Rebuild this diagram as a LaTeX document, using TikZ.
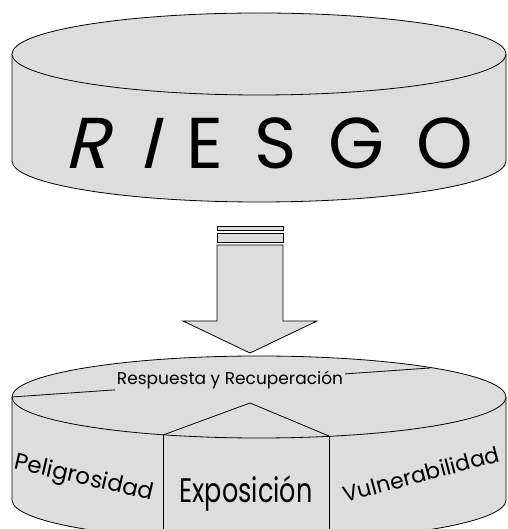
\documentclass[tikz,border=0pt]{standalone}
\usepackage{fontspec}
\setmainfont{Poppins}
\usetikzlibrary{calc}
\definecolor{discgray}{RGB}{221,221,221}

\begin{document}
\begin{tikzpicture}[x=1pt,y=1pt,
        disc/.style={draw=black,fill=discgray,line width=0.8pt},
        edge/.style={draw=black,line width=0.8pt},
        lbl/.style={inner sep=0pt,text=black}
      ]
      \useasboundingbox (0,0) rectangle (507,529);
      \clip (0,0) rectangle (507,529);
      % Upper disc.
      \fill[discgray] (12,475) -- (12,368) arc[start angle=180,end angle=360,x radius=247,y radius=41] -- (506,475) -- cycle;
      \draw[edge] (12,475) -- (12,368) arc[start angle=180,end angle=360,x radius=247,y radius=41] -- (506,475);
      \draw[disc] (259,475) ellipse[x radius=247,y radius=41];
      \node[lbl,anchor=west,font=\fontsize{72}{78}\selectfont\addfontfeature{LetterSpace=44}] (riesgo) at (64,386) {{\addfontfeature{FakeSlant=0.25}RI}\kern0.4em ESGO};
      % Arrow.
      \draw[disc] (217,299) rectangle (283,303);
      \draw[disc] (217,287) rectangle (283,296);
      \draw[disc] (217,284) -- (217,208) -- (183,208) -- (250,176) -- (317,208) -- (283,208) -- (283,284) -- cycle;
      % Lower disc.
      \fill[discgray] (12,132) -- (12,29) arc[start angle=180,end angle=360,x radius=247,y radius=41] -- (506,132) -- cycle;
      \draw[edge] (12,132) -- (12,29) arc[start angle=180,end angle=360,x radius=247,y radius=41] -- (506,132);
      \draw[disc] (259,132) ellipse[x radius=247,y radius=41];
      \coordinate (west) at (12,132);
      \coordinate (rim) at (430,161);
      \coordinate (hub) at (250,126);
      \coordinate (pfront) at (163,94);
      \coordinate (vfront) at (329,93);
      \coordinate (pfoot) at (163,-20);
      \coordinate (vfoot) at (329,-20);
      % Sectors.
      \draw[edge] (west) -- (rim);
      \draw[edge] (pfront) -- (hub) -- (vfront);
      \draw[edge] (pfront) -- (pfoot);
      \draw[edge] (vfront) -- (vfoot);
      \node[lbl,fill=discgray,inner sep=1.5pt,anchor=base,font=\fontsize{17}{19}\selectfont] (resp) at (230,144) {Respuesta y Recuperación};
      \node[lbl,anchor=base,font=\fontsize{34}{36}\selectfont,xscale=0.75,transform shape] (expo) at (246,26) {Exposición};
      \node[lbl,rotate=-13,font=\fontsize{23}{25}\selectfont] (peli) at (84,50) {Peligrosidad};
      \node[lbl,rotate=15,font=\fontsize{22}{24}\selectfont] (vuln) at (421,55) {Vulnerabilidad};
    \end{tikzpicture}
\end{document}
